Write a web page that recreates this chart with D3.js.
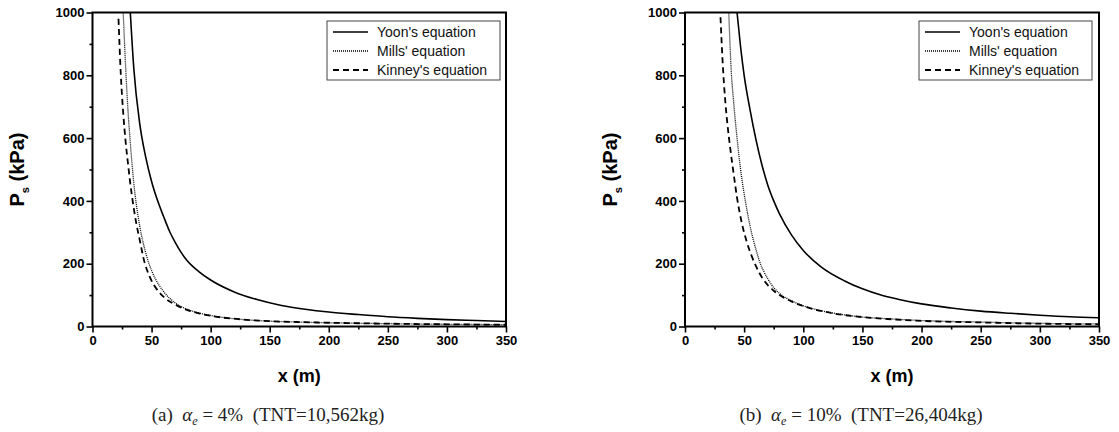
<!DOCTYPE html>
<html>
<head>
<meta charset="utf-8">
<script src="https://cdn.jsdelivr.net/npm/d3@7"></script>
<style>
  html, body { margin: 0; padding: 0; background: #fff; }
  svg { display: block; }
</style>
</head>
<body>
<svg id="chart" width="1119" height="432"></svg>
<script>
// ---------- data ----------
const xTickValues = [0, 50, 100, 150, 200, 250, 300, 350];
const yTickValues = [0, 200, 400, 600, 800, 1000];
const legendLabels = ["Yoon's equation", "Mills' equation", "Kinney's equation"];
const captionsPrefix = ["(a)", "(b)"];
const captionAlphaValue = ["4%", "10%"];
const captionTNT = ["(TNT=10,562kg)", "(TNT=26,404kg)"];

// Panel (a): alpha_e = 4%
const yoonA_x = [32, 35, 40, 45, 50, 55, 60, 65, 70, 75, 80, 90, 100, 120, 140, 160, 180, 200, 225, 250, 275, 300, 325, 350];
const yoonA_p = [1000, 820, 645, 540, 462, 402, 352, 305, 268, 236, 210, 175, 148, 110, 85, 67, 55, 46, 38, 31, 26, 22, 19, 16];
const millsA_x = [26, 28, 30, 32, 35, 40, 45, 50, 55, 60, 70, 80, 90, 100, 125, 150, 175, 200, 250, 300, 350];
const millsA_p = [1000, 830, 690, 585, 455, 320, 235, 178, 140, 112, 75, 55, 43, 35, 23, 17, 14, 12, 9, 7, 6];
const kinneyA_x = [22, 24, 26, 28, 30, 32, 34, 37, 40, 44, 48, 52, 56, 60, 70, 80, 90, 100, 125, 150, 175, 200, 250, 300, 350];
const kinneyA_p = [980, 800, 680, 590, 520, 455, 400, 330, 275, 205, 162, 132, 111, 95, 70, 53, 42, 34, 23, 17, 14, 12, 9, 7, 5.5];

// Panel (b): alpha_e = 10%
const yoonB_x = [44, 47, 50, 55, 60, 65, 70, 75, 80, 90, 100, 115, 135, 150, 165, 180, 200, 225, 250, 275, 300, 325, 350];
const yoonB_p = [1000, 890, 800, 690, 595, 515, 450, 400, 358, 292, 242, 190, 145, 120, 101, 87, 72, 59, 49, 42, 36, 31, 28];
const millsB_x = [37, 39, 41, 44, 47, 51, 55, 60, 63, 70, 75, 80, 90, 100, 110, 125, 150, 175, 200, 250, 300, 350];
const millsB_p = [1000, 820, 720, 600, 500, 400, 320, 245, 208, 152, 124, 105, 82, 66, 55, 43, 30, 24, 19, 14, 10, 8];
const kinneyB_x = [30, 32, 34, 36, 38, 41, 44, 48, 52, 56, 60, 65, 70, 75, 80, 90, 100, 110, 125, 150, 175, 200, 250, 300, 350];
const kinneyB_p = [985, 830, 720, 640, 575, 490, 410, 330, 272, 228, 192, 157, 132, 114, 100, 80, 65, 54, 42, 30, 23, 18, 13, 9, 7];

// ---------- layout ----------
const svg = d3.select("#chart");
const plotTop = 12.5, plotBottom = 326.5;
const panels = [
  { left: 92.5, right: 506, series: [[yoonA_x, yoonA_p], [millsA_x, millsA_p], [kinneyA_x, kinneyA_p]],
    ytitleX: 24, legendX: 327, captionX: 268 },
  { left: 685, right: 1099, series: [[yoonB_x, yoonB_p], [millsB_x, millsB_p], [kinneyB_x, kinneyB_p]],
    ytitleX: 617, legendX: 919, captionX: 861 }
];
const styles = [
  { width: 1.6, dash: null },
  { width: 1.3, dash: "1,1" },
  { width: 1.8, dash: "6,4" }
];
const boldFont = "'Liberation Sans', Arial, sans-serif";

panels.forEach((p, i) => {
  const g = svg.append("g");
  const x = d3.scaleLinear().domain([0, 350]).range([p.left, p.right]);
  const y = d3.scaleLinear().domain([0, 1000]).range([plotBottom, plotTop]);

  const clipId = "clip" + i;
  svg.append("clipPath").attr("id", clipId)
    .append("rect").attr("x", p.left).attr("y", plotTop).attr("width", p.right - p.left).attr("height", plotBottom - plotTop);

  // curves
  const line = d3.line().x(d => x(d[0])).y(d => y(d[1])).curve(d3.curveMonotoneX);
  p.series.forEach((s, k) => {
    const pts = s[0].map((xv, j) => [xv, s[1][j]]);
    g.append("path")
      .attr("clip-path", `url(#${clipId})`)
      .attr("d", line(pts))
      .attr("fill", "none")
      .attr("stroke", "#000")
      .attr("stroke-width", styles[k].width)
      .attr("stroke-dasharray", styles[k].dash);
  });

  // frame
  g.append("rect")
    .attr("x", p.left).attr("y", plotTop)
    .attr("width", p.right - p.left).attr("height", plotBottom - plotTop)
    .attr("fill", "none").attr("stroke", "#000").attr("stroke-width", 2);

  // x axis
  const xAxis = d3.axisBottom(x).tickValues(xTickValues).tickSize(6).tickPadding(3).tickFormat(d3.format("d"));
  const xa = g.append("g").attr("transform", `translate(0,${plotBottom})`).call(xAxis);
  const xMinor = d3.axisBottom(x).tickValues(d3.range(25, 350, 50)).tickSize(3).tickFormat("");
  const xm = g.append("g").attr("transform", `translate(0,${plotBottom})`).call(xMinor);
  // y axis
  const yAxis = d3.axisLeft(y).tickValues(yTickValues).tickSize(6).tickPadding(2).tickFormat(d3.format("d"));
  const ya = g.append("g").attr("transform", `translate(${p.left},0)`).call(yAxis);
  const yMinor = d3.axisLeft(y).tickValues(d3.range(100, 1000, 200)).tickSize(3).tickFormat("");
  const ym = g.append("g").attr("transform", `translate(${p.left},0)`).call(yMinor);

  [xa, xm, ya, ym].forEach(a => {
    a.select(".domain").remove();
    a.selectAll(".tick line").attr("stroke", "#000").attr("stroke-width", 1.6);
    a.selectAll("text").attr("font-family", boldFont).attr("font-weight", "bold")
      .attr("font-size", 13).attr("fill", "#000");
  });

  // axis titles
  g.append("text")
    .attr("x", (p.left + p.right) / 2).attr("y", 382)
    .attr("text-anchor", "middle")
    .attr("font-family", boldFont).attr("font-weight", "bold").attr("font-size", 18)
    .text("x (m)");

  const yt = g.append("text")
    .attr("transform", `translate(${p.ytitleX},${(plotTop + plotBottom) / 2}) rotate(-90)`)
    .attr("text-anchor", "middle")
    .attr("font-family", boldFont).attr("font-weight", "bold").attr("font-size", 20);
  yt.append("tspan").text("P");
  yt.append("tspan").attr("font-size", 11).attr("dy", 5).text("s");
  yt.append("tspan").attr("dy", -5).text(" (kPa)");

  // legend
  const lg = g.append("g");
  lg.append("rect")
    .attr("x", p.legendX).attr("y", 21)
    .attr("width", 173).attr("height", 59)
    .attr("fill", "#fff").attr("stroke", "#444").attr("stroke-width", 1);
  legendLabels.forEach((lab, k) => {
    const yy = 32 + k * 19;
    lg.append("line")
      .attr("x1", p.legendX + 6).attr("x2", p.legendX + 41)
      .attr("y1", yy).attr("y2", yy)
      .attr("stroke", "#000").attr("stroke-width", styles[k].width)
      .attr("stroke-dasharray", styles[k].dash);
    lg.append("text")
      .attr("x", p.legendX + 50).attr("y", yy).attr("dy", "0.35em")
      .attr("font-family", boldFont).attr("font-size", 14).attr("fill", "#111")
      .text(lab);
  });

  // caption
  const cap = g.append("text")
    .attr("x", p.captionX).attr("y", 421)
    .attr("text-anchor", "middle")
    .attr("font-family", "'Liberation Serif', 'Times New Roman', serif")
    .attr("font-size", 19).attr("fill", "#222");
  cap.append("tspan").text(captionsPrefix[i] + "\u00a0\u00a0");
  cap.append("tspan").attr("font-style", "italic").text("\u03b1");
  cap.append("tspan").attr("font-style", "italic").attr("font-size", 12).attr("dy", 4).text("e");
  cap.append("tspan").attr("dy", -4).text("\u00a0= " + captionAlphaValue[i] + "\u00a0\u00a0" + captionTNT[i]);
});
</script>
</body>
</html>
